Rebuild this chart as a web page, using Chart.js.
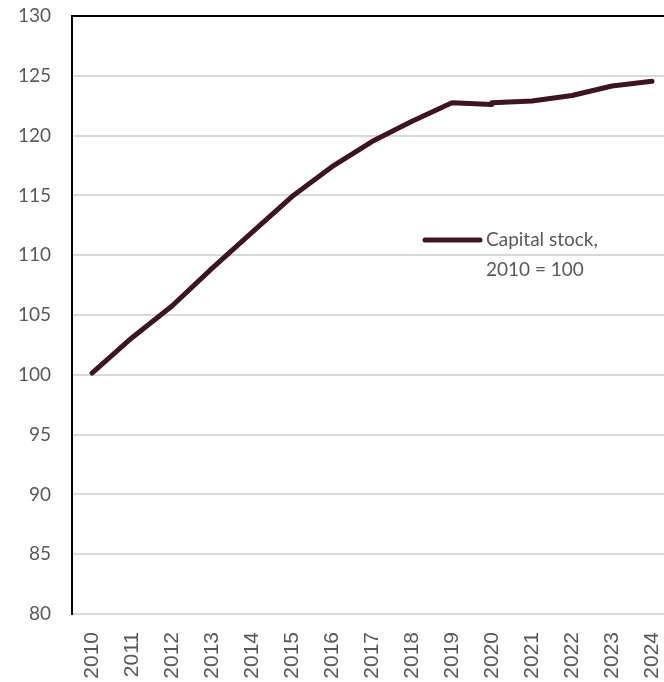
<!DOCTYPE html>
<html>
<head>
<meta charset="utf-8">
<script src="https://cdn.jsdelivr.net/npm/chart.js@4/dist/chart.umd.min.js"></script>
<style>
  html, body { margin: 0; padding: 0; background: #fff; overflow: hidden; }
  #wrap { width: 672px; height: 682px; position: relative; }
</style>
</head>
<body>
<div id="wrap"><canvas id="capitalChart"></canvas></div>
<script>
// Capital stock index, 2010 = 100 (series restarts in 2020)
const years = ['2010', '2011', '2012', '2013', '2014', '2015', '2016', '2017', '2018', '2019', '2020', '2021', '2022', '2023', '2024'];
const stockOld = [100.15, 103.1, 105.75, 108.9, 111.9, 114.9, 117.4, 119.5, 121.2, 122.75, 122.6, null, null, null, null];
const stockNew = [null, null, null, null, null, null, null, null, null, null, 122.75, 122.9, 123.35, 124.15, 124.55];
const legendLines = ['Capital stock,', '2010 = 100'];
const yMin = 80, yMax = 130, yStep = 5;

const lineColor = '#3d1522';
const textColor = '#595959';

// top frame line and the in-plot legend
const framePlugin = {
    id: 'frame',
    afterDraw(chart) {
        const { ctx, chartArea } = chart;
        ctx.save();
        ctx.strokeStyle = '#000';
        ctx.lineWidth = 2;
        ctx.beginPath();
        ctx.moveTo(chartArea.left, chartArea.top);
        ctx.lineTo(chartArea.right, chartArea.top);
        ctx.stroke();

        const x0 = 425, y0 = 240;
        ctx.strokeStyle = lineColor;
        ctx.lineWidth = 5;
        ctx.lineCap = 'round';
        ctx.beginPath();
        ctx.moveTo(x0, y0);
        ctx.lineTo(x0 + 55, y0);
        ctx.stroke();
        ctx.fillStyle = textColor;
        ctx.font = '19px Lato, "Open Sans", sans-serif';
        ctx.textBaseline = 'middle';
        legendLines.forEach((t, i) => ctx.fillText(t, x0 + 61, y0 + i * 30));
        ctx.restore();
    }
};

const ctx = document.getElementById('capitalChart').getContext('2d');
new Chart(ctx, {
    type: 'line',
    data: {
        labels: years,
        datasets: [
            { label: legendLines.join(' '), data: stockOld, borderColor: lineColor, borderWidth: 5, pointRadius: 0, tension: 0, borderCapStyle: 'round', borderJoinStyle: 'round' },
            { label: '', data: stockNew, borderColor: lineColor, borderWidth: 5, pointRadius: 0, tension: 0, borderCapStyle: 'round', borderJoinStyle: 'round' }
        ]
    },
    options: {
        responsive: true,
        maintainAspectRatio: false,
        animation: false,
        layout: { padding: 0 },
        plugins: {
            legend: { display: false },
            tooltip: { enabled: false }
        },
        scales: {
            x: {
                offset: true,
                grid: { display: false, drawTicks: false },
                border: { display: false },
                ticks: {
                    color: textColor,
                    font: { family: '"Liberation Sans", Arial, sans-serif', size: 21 },
                    minRotation: 90,
                    maxRotation: 90,
                    padding: 18,
                    autoSkip: false
                },
                afterFit(scale) {
                    scale.height = 68;
                    scale.paddingLeft = 0;
                    scale.paddingRight = 0;
                }
            },
            y: {
                min: yMin,
                max: yMax,
                grid: { color: '#d9d9d9', lineWidth: 2, drawTicks: false },
                border: { display: true, color: '#000', width: 2 },
                ticks: {
                    stepSize: yStep,
                    color: textColor,
                    font: { family: 'Lato, "Open Sans", sans-serif', size: 19 },
                    padding: 21
                },
                afterFit(scale) {
                    scale.width = 72;
                    scale.paddingTop = 16;
                    scale.paddingBottom = 0;
                }
            }
        }
    },
    plugins: [framePlugin]
});
</script>
</body>
</html>
